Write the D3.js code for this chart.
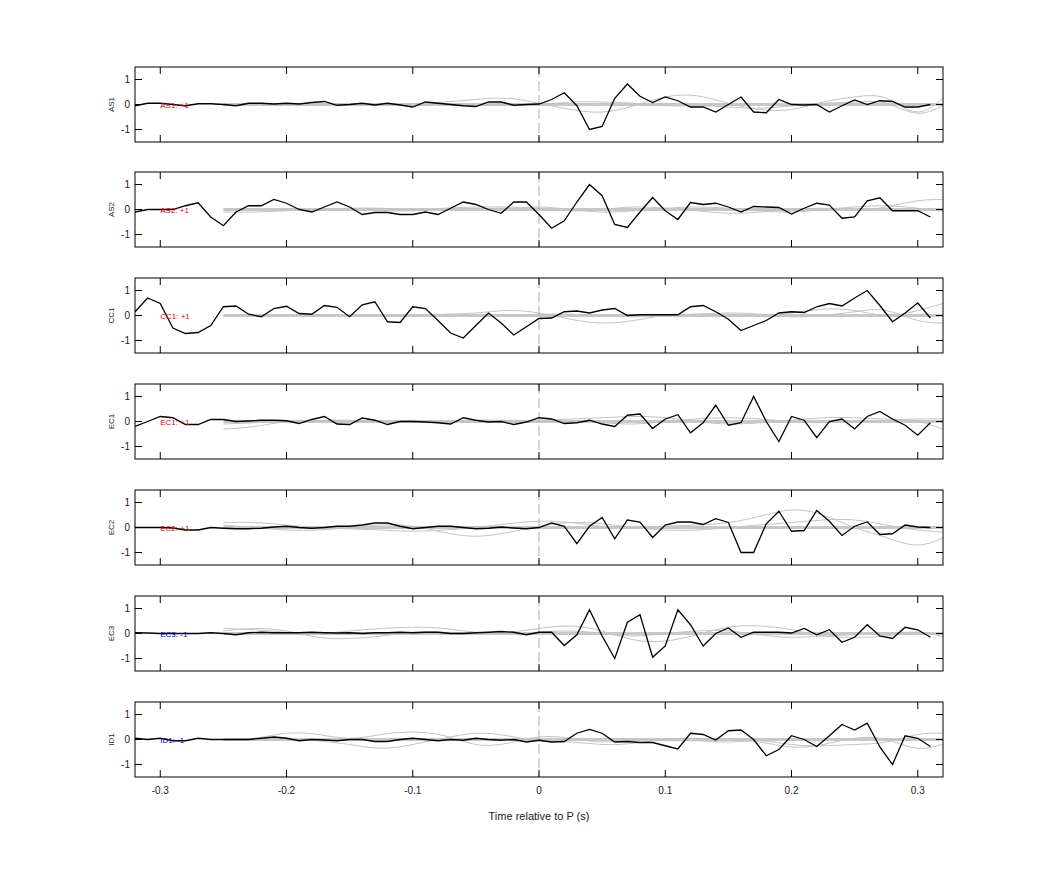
<!DOCTYPE html>
<html>
<head>
<meta charset="utf-8">
<script src="https://cdn.jsdelivr.net/npm/d3@7"></script>
<style>
  body { margin: 0; background: #fff; }
  text { font-family: "Liberation Sans", Arial, sans-serif; }
</style>
</head>
<body>
<svg id="chart" width="1042" height="875"></svg>
<script>
// stations and polarity labels
var stations = ["AS1", "AS2", "CC1", "EC1", "EC2", "EC3", "ID1"];
var polarity = ["+1", "+1", "+1", "+1", "+1", "-1", "-1"];
var xTicks = [-0.3, -0.2, -0.1, 0, 0.1, 0.2, 0.3];
var yTicks = [-1, 0, 1];

// black traces, one sample every 0.01 s starting at -0.32 s
var t0 = -0.32, dt = 0.01;
var traceAS1 = [-0.05,0.05,0.05,0.0,-0.05,0.03,0.03,0,-0.05,0.05,0.05,0.02,0.05,0.02,0.08,0.12,-0.03,0.0,0.05,-0.02,0.05,-0.02,-0.1,0.1,0.05,0.0,-0.05,-0.08,0.1,0.1,-0.03,0.0,
  0.02,0.2,0.47,-0.05,-1.0,-0.88,0.25,0.82,0.33,0.08,0.3,0.15,-0.1,-0.1,-0.3,0.0,0.3,-0.3,-0.33,0.2,0.0,-0.02,0.0,-0.3,-0.05,0.18,0.0,0.15,0.12,-0.1,-0.1,0.0];
var traceAS2 = [-0.1,0.0,0.0,0.0,0.15,0.27,-0.3,-0.65,-0.1,0.15,0.15,0.4,0.25,0.0,-0.1,0.1,0.3,0.1,-0.2,-0.12,-0.12,-0.2,-0.2,-0.1,-0.2,0.05,0.3,0.2,0.0,-0.15,0.3,0.3,
  -0.2,-0.75,-0.45,0.3,1.0,0.55,-0.6,-0.72,-0.1,0.48,-0.05,-0.4,0.28,0.2,0.25,0.1,-0.1,0.12,0.1,0.08,-0.18,0.05,0.25,0.18,-0.35,-0.3,0.35,0.47,-0.05,-0.05,-0.05,-0.3];
var traceCC1 = [0.15,0.7,0.48,-0.5,-0.72,-0.68,-0.4,0.35,0.38,0.05,-0.05,0.28,0.37,0.08,0.05,0.4,0.33,-0.05,0.43,0.55,-0.25,-0.28,0.35,0.28,-0.2,-0.7,-0.9,-0.4,0.1,-0.3,-0.78,-0.45,
  -0.12,-0.1,0.15,0.18,0.1,0.22,0.28,0.0,0.03,0.03,0.03,0.03,0.35,0.4,0.15,-0.15,-0.6,-0.4,-0.2,0.1,0.15,0.12,0.35,0.48,0.38,0.7,1.0,0.4,-0.25,0.1,0.5,-0.1];
var traceEC1 = [-0.2,0.0,0.2,0.15,-0.12,-0.12,0.08,0.08,0.0,0.02,0.05,0.05,0.03,-0.08,0.08,0.2,-0.1,-0.12,0.14,0.05,-0.12,0.0,0.0,-0.02,-0.05,-0.1,0.15,0.05,-0.02,0.0,-0.12,-0.02,
  0.15,0.1,-0.08,-0.05,0.05,-0.1,-0.2,0.25,0.3,-0.28,0.1,0.27,-0.45,-0.05,0.65,-0.15,-0.05,1.0,0.0,-0.8,0.2,0.05,-0.65,0.0,0.1,-0.3,0.2,0.4,0.1,-0.15,-0.55,-0.05];
var traceEC2 = [0,0,0,-0.02,-0.1,-0.1,0,-0.03,-0.05,-0.05,-0.03,0.02,0.05,0,-0.03,0,0.05,0.05,0.1,0.18,0.18,0.05,-0.05,0,0.05,0.05,0,-0.05,-0.03,0.02,-0.02,-0.05,
  0.0,0.18,0.05,-0.65,0.05,0.4,-0.45,0.3,0.22,-0.4,0.1,0.22,0.22,0.12,0.35,0.2,-1.0,-1.0,0.15,0.65,-0.15,-0.12,0.68,0.25,-0.32,0.05,0.22,-0.28,-0.25,0.1,0.02,0.0];
var traceEC3 = [0.03,0.02,0,0,0,0,0.03,0,-0.05,0.03,0.05,0.03,0.03,0.03,0.05,0.03,0.02,0.03,0,0.03,0.03,0.05,0.03,0.05,0.05,0,0,0.03,0.05,0.08,0.05,-0.05,
  0.05,0.05,-0.48,-0.05,0.95,-0.1,-1.0,0.45,0.75,-0.95,-0.5,0.95,0.35,-0.5,0.0,0.22,-0.15,0.05,0.05,0.05,0.02,0.2,-0.05,0.15,-0.35,-0.15,0.35,-0.1,-0.2,0.25,0.15,-0.15];
var traceID1 = [0.05,0,0.05,-0.05,-0.05,0.05,0,0,0,0,0.05,0.1,0.05,-0.05,0,-0.02,-0.05,0,0,-0.08,-0.08,0,0.05,0,-0.05,0,-0.03,0.05,0.0,-0.03,0,-0.1,
  -0.03,-0.1,-0.08,0.25,0.4,0.25,-0.1,-0.08,-0.12,-0.12,-0.25,-0.38,0.25,0.2,-0.02,0.35,0.38,0.0,-0.65,-0.4,0.15,0.0,-0.28,0.15,0.6,0.38,0.65,-0.3,-1.0,0.15,0.05,-0.28];
var traces = [traceAS1, traceAS2, traceCC1, traceEC1, traceEC2, traceEC3, traceID1];

// grey comparison traces, one sample every 0.025 s starting at -0.25 s
var g0 = -0.25, gdt = 0.025;
var greyA = [
  [0,0,-0.02,0,0,0,0.02,0.1,0.2,0.25,0.05,-0.2,-0.3,-0.05,0.3,0.35,0.05,-0.2,-0.2,0.1,0.3,0.25,-0.3,0.5],
  [-0.1,-0.1,-0.05,0,0.05,0.05,0,0.05,0.1,0.1,0.05,-0.05,0,0.1,0.05,-0.05,-0.15,-0.1,0,0.05,0,0.1,0.35,0.4],
  [0,0,0,0,0,0,0,0.05,0.1,0.2,0.1,-0.15,-0.3,-0.2,0,0.05,0.05,0,0.1,0.25,0.2,0,0.2,0.55],
  [-0.3,-0.2,0,0.05,0.05,0,0,0,0.05,0.05,0.05,0.1,0.15,0.2,0.15,0,-0.1,-0.05,0.05,0.15,0.15,0.1,0,-0.4],
  [0.2,0.2,0.1,0,-0.05,-0.1,-0.15,-0.1,0,0.15,0.25,0.2,0.05,0,0.05,0.1,0.2,0.45,0.7,0.5,0,-0.4,-0.7,-0.3],
  [0.2,0.15,0.05,0,0.1,0.2,0.25,0.2,0.05,0.05,0.2,0.3,0.1,-0.25,-0.3,-0.05,0.25,0.3,0.15,-0.1,-0.15,-0.1,0.05,-0.2],
  [0,0.05,0.25,0.2,0.05,0.2,0.3,0.15,-0.2,-0.15,0.1,0.05,-0.1,0,-0.05,-0.05,-0.1,-0.05,-0.2,-0.25,-0.2,-0.1,0.2,0.25]
];
var greyB = [
  [0,0,0,0,0,0,0,0,0,0,0,0.1,0.1,0.05,-0.05,-0.05,-0.1,-0.15,-0.05,0.05,0.1,0.05,-0.35,0.1],
  [0,0,0,0,0,-0.05,-0.05,0,0.05,0.05,0.1,0,-0.1,-0.05,0.05,0.1,0.05,-0.05,-0.1,0,0.1,0.15,0.05,-0.1],
  [0,0,0,0,0,0,0,0,0,0,0.05,0.05,0,-0.05,0,0.05,0.1,0.05,-0.05,0,0.15,0.2,-0.2,-0.3],
  [-0.1,-0.05,0,0,0,0,0.05,0,0,0,0,0,-0.05,-0.1,0,0.1,0.15,0.1,0,-0.05,0,0.05,0.1,0.1],
  [0.1,0,-0.1,-0.1,0,0.1,0.05,-0.2,-0.35,-0.2,0.05,0.2,0.15,0,-0.1,-0.1,0,0.1,0.2,0.3,0.3,0.1,-0.1,-0.2],
  [0.1,0.2,0.1,-0.15,-0.2,-0.1,0.05,0.05,0,0,0.05,0.1,0,-0.1,0,0.1,0.1,-0.05,-0.15,-0.1,-0.05,0,0.05,-0.1],
  [-0.05,0,0.05,-0.05,-0.2,-0.35,-0.2,0.05,0.25,0.15,-0.05,-0.1,-0.2,-0.15,0,0.05,0,-0.1,-0.3,-0.2,0.05,0,-0.35,-0.1]
];

var svg = d3.select("#chart");
var left = 135, right = 943, panelH = 75;
var tops = [67, 172, 278, 384, 490, 596, 702];

var x = d3.scaleLinear().domain([-0.32, 0.32]).range([left, right]);

stations.forEach(function(name, p) {
  var y = d3.scaleLinear().domain([-1.5, 1.5]).range([tops[p] + panelH, tops[p]]);
  var g = svg.append("g");
  var clipId = "clip" + p;
  g.append("clipPath").attr("id", clipId).append("rect")
    .attr("x", left).attr("y", tops[p]).attr("width", right - left).attr("height", panelH);
  var plot = g.append("g").attr("clip-path", "url(#" + clipId + ")");

  var greyLine = d3.line().x(function(d, i) { return x(g0 + i * gdt); }).y(function(d) { return y(d); })
    .curve(d3.curveNatural);
  // flat band of near-zero grey traces
  plot.append("line").attr("x1", x(g0)).attr("x2", x(0.32)).attr("y1", y(0)).attr("y2", y(0))
    .attr("stroke", "#c8c8c8").attr("stroke-width", 3);
  [greyA[p], greyB[p]].forEach(function(s) {
    plot.append("path").datum(s).attr("d", greyLine)
      .attr("fill", "none").attr("stroke", "#c4c4c4").attr("stroke-width", 1);
  });

  plot.append("line").attr("x1", x(0)).attr("x2", x(0)).attr("y1", tops[p]).attr("y2", tops[p] + panelH)
    .attr("stroke", "#b8a8a8").attr("stroke-width", 1).attr("stroke-dasharray", "10,4");

  var line = d3.line().x(function(d, i) { return x(t0 + i * dt); }).y(function(d) { return y(d); });
  plot.append("path").datum(traces[p]).attr("d", line)
    .attr("fill", "none").attr("stroke", "#000").attr("stroke-width", 1.3);

  g.append("text").attr("x", x(-0.3)).attr("y", y(0) + 3)
    .attr("font-size", 8).attr("fill", polarity[p] == "+1" ? "#e00000" : "#0000cc")
    .text(name + ": " + polarity[p]);

  // box and inward ticks
  g.append("rect").attr("x", left).attr("y", tops[p]).attr("width", right - left).attr("height", panelH)
    .attr("fill", "none").attr("stroke", "#000").attr("stroke-width", 1);
  xTicks.forEach(function(t) {
    g.append("line").attr("x1", x(t)).attr("x2", x(t)).attr("y1", tops[p]).attr("y2", tops[p] + 7).attr("stroke", "#000");
    g.append("line").attr("x1", x(t)).attr("x2", x(t)).attr("y1", tops[p] + panelH).attr("y2", tops[p] + panelH - 7).attr("stroke", "#000");
  });
  yTicks.forEach(function(v) {
    g.append("line").attr("x1", left).attr("x2", left + 7).attr("y1", y(v)).attr("y2", y(v)).attr("stroke", "#000");
    g.append("line").attr("x1", right).attr("x2", right - 7).attr("y1", y(v)).attr("y2", y(v)).attr("stroke", "#000");
    g.append("text").attr("x", left - 5).attr("y", y(v) + 3.5).attr("text-anchor", "end")
      .attr("font-size", 10).attr("fill", "#222").text(v);
  });
  g.append("text").attr("transform", "translate(" + 114 + "," + y(0) + ") rotate(-90)")
    .attr("text-anchor", "middle").attr("font-size", 8).attr("fill", "#222").text(name);

  if (p == stations.length - 1) {
    xTicks.forEach(function(t) {
      g.append("text").attr("x", x(t)).attr("y", tops[p] + panelH + 17).attr("text-anchor", "middle")
        .attr("font-size", 10).attr("fill", "#222").text(t);
    });
  }
});

svg.append("text").attr("x", x(0)).attr("y", 820).attr("text-anchor", "middle")
  .attr("font-size", 11).attr("fill", "#222").text("Time relative to P (s)");
</script>
</body>
</html>
